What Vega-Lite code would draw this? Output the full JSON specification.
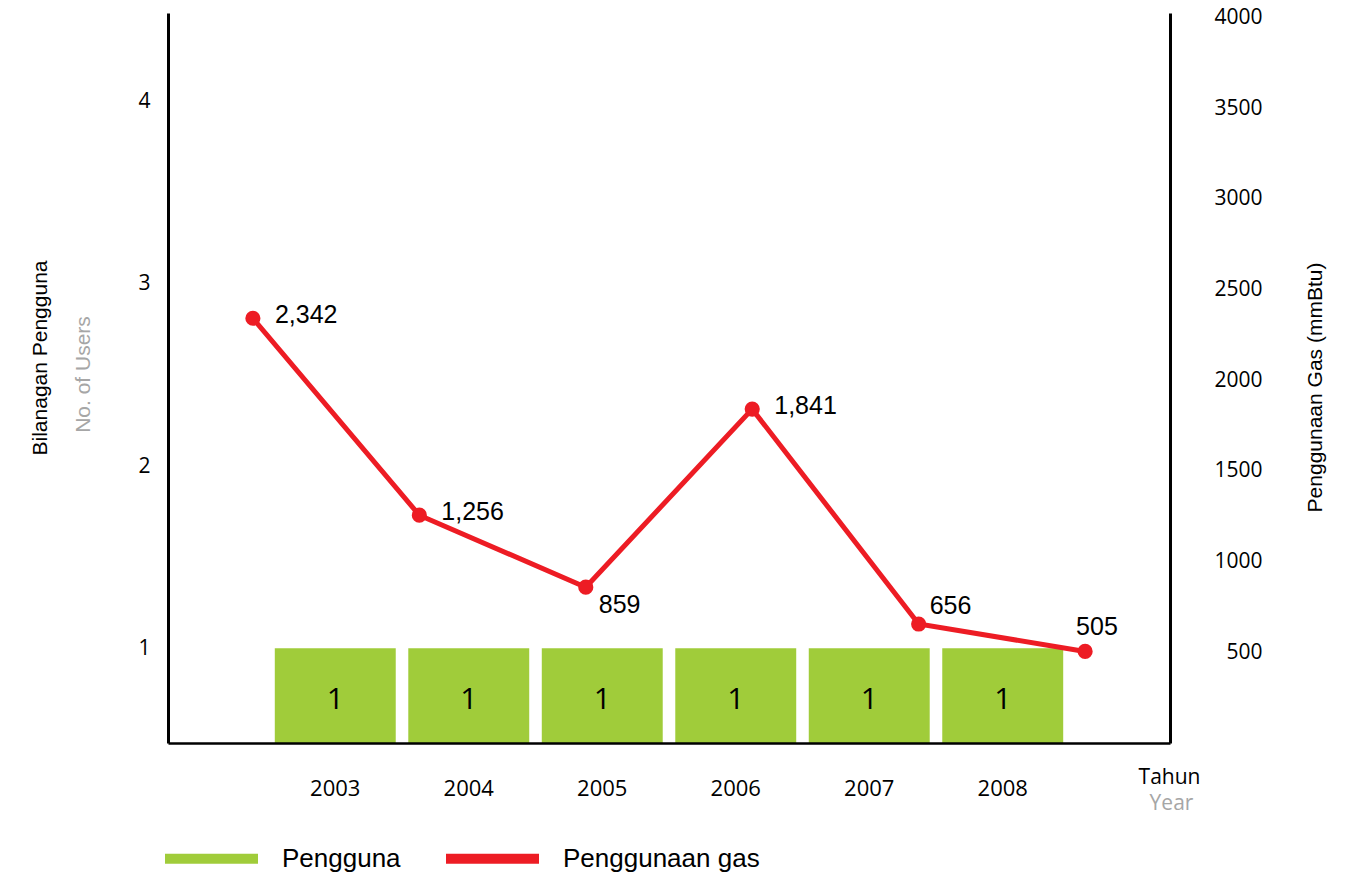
{
  "$schema": "https://vega.github.io/schema/vega-lite/v6.json",
  "width": 1002,
  "height": 730,
  "autosize": {"type": "none"},
  "padding": {"left": 168, "top": 13, "right": 196, "bottom": 136},
  "background": "white",
  "config": {
    "view": {"stroke": null},
    "axis": {
      "grid": false,
      "ticks": false,
      "tickSize": 0,
      "domainColor": "black",
      "labelColor": "black",
      "labelFont": "Open Sans",
      "labelFontSize": 21,
      "titleFontWeight": "normal",
      "titleColor": "black"
    }
  },
  "title": {
    "text": "Bilanagan Pengguna",
    "orient": "left",
    "anchor": "middle",
    "font": "Liberation Sans",
    "fontSize": 21,
    "fontWeight": "normal",
    "color": "black",
    "offset": 21,
    "dx": 20
  },
  "datasets": {
    "table": [
      {"year": "2003", "users": 1, "gas": 2342},
      {"year": "2004", "users": 1, "gas": 1256},
      {"year": "2005", "users": 1, "gas": 859},
      {"year": "2006", "users": 1, "gas": 1841},
      {"year": "2007", "users": 1, "gas": 656},
      {"year": "2008", "users": 1, "gas": 505}
    ]
  },
  "data": {"name": "table"},
  "layer": [
    {
      "encoding": {
        "x": {
          "field": "year",
          "type": "ordinal",
          "scale": {"paddingInner": 0.094, "paddingOuter": 0.8},
          "axis": {
            "domain": true,
            "domainWidth": 2.5,
            "labelAngle": 0,
            "labelPadding": 35,
            "labelFontSize": 22,
            "title": "Tahun",
            "titleFont": "Open Sans",
            "titleFontSize": 21,
            "titleX": 1001,
            "titleY": 40,
            "titleAlign": "center",
            "titleBaseline": "alphabetic",
            "zindex": 1
          }
        },
        "y": {
          "field": "users",
          "type": "quantitative",
          "scale": {"domain": [0.479, 4.488], "nice": false, "zero": false},
          "axis": {
            "values": [1, 2, 3, 4],
            "domainWidth": 3,
            "labelPadding": 18,
            "title": "No. of Users",
            "titleColor": "#A6A6A6",
            "titleFont": "Liberation Sans",
            "titleFontSize": 21,
            "titleAngle": 270,
            "titleX": -79,
            "titleY": 361,
            "titleAlign": "center",
            "titleBaseline": "alphabetic"
          }
        }
      },
      "layer": [
        {
          "mark": {"type": "bar", "clip": true},
          "encoding": {
            "color": {
              "datum": "Pengguna",
              "scale": {"domain": ["Pengguna", "Penggunaan gas"], "range": ["#A0CC3A", "#ED1C24"]},
              "legend": {
                "orient": "none",
                "legendX": -8,
                "legendY": 794,
                "direction": "horizontal",
                "title": null,
                "symbolType": "stroke",
                "symbolSize": 8649,
                "symbolStrokeWidth": 10,
                "labelFont": "Liberation Sans",
                "labelFontSize": 26,
                "labelColor": "black",
                "labelOffset": 19,
                "labelLimit": 400,
                "columnPadding": 25,
                "encode": {
                  "symbols": {
                    "update": {
                      "stroke": {"scale": "color", "field": "value"},
                      "strokeWidth": {"value": 10},
                      "opacity": {"value": 1}
                    }
                  }
                }
              }
            }
          }
        },
        {
          "mark": {"type": "text", "font": "Open Sans", "fontSize": 30, "baseline": "middle", "dy": 52, "color": "black"},
          "encoding": {"text": {"field": "users", "type": "quantitative"}}
        }
      ]
    },
    {
      "encoding": {
        "x": {
          "field": "year",
          "type": "ordinal",
          "scale": {"type": "point", "padding": 0.51},
          "axis": {
            "orient": "bottom",
            "domain": false,
            "labels": false,
            "ticks": false,
            "title": "Year",
            "titleColor": "#A6A6A6",
            "titleFont": "Open Sans",
            "titleFontSize": 21,
            "titleX": 1003,
            "titleY": 66,
            "titleAlign": "center",
            "titleBaseline": "alphabetic"
          }
        },
        "y": {
          "field": "gas",
          "type": "quantitative",
          "scale": {"domain": [0, 4025], "nice": false},
          "axis": {
            "orient": "right",
            "values": [500, 1000, 1500, 2000, 2500, 3000, 3500, 4000],
            "format": "d",
            "domainWidth": 3,
            "labelAlign": "right",
            "labelPadding": 92,
            "title": "Penggunaan Gas (mmBtu)",
            "titleFont": "Liberation Sans",
            "titleFontSize": 21,
            "titleAngle": 270,
            "titleX": 151,
            "titleY": 374,
            "titleAlign": "center",
            "titleBaseline": "alphabetic"
          }
        }
      },
      "layer": [
        {
          "mark": {"type": "line", "strokeWidth": 5},
          "encoding": {"color": {"datum": "Penggunaan gas"}}
        },
        {
          "mark": {"type": "circle", "size": 230, "opacity": 1, "color": "#ED1C24"}
        },
        {
          "transform": [{"filter": "datum.year == '2003' || datum.year == '2004' || datum.year == '2006'"}],
          "mark": {"type": "text", "font": "Liberation Sans", "fontSize": 25, "align": "left", "baseline": "middle", "dx": 22, "dy": -3, "color": "black"},
          "encoding": {"text": {"field": "gas", "type": "quantitative", "format": ","}}
        },
        {
          "transform": [{"filter": "datum.year == '2005'"}],
          "mark": {"type": "text", "font": "Liberation Sans", "fontSize": 25, "align": "left", "baseline": "middle", "dx": 13, "dy": 18, "color": "black"},
          "encoding": {"text": {"field": "gas", "type": "quantitative", "format": ","}}
        },
        {
          "transform": [{"filter": "datum.year == '2007'"}],
          "mark": {"type": "text", "font": "Liberation Sans", "fontSize": 25, "align": "left", "baseline": "middle", "dx": 11, "dy": -18, "color": "black"},
          "encoding": {"text": {"field": "gas", "type": "quantitative", "format": ","}}
        },
        {
          "transform": [{"filter": "datum.year == '2008'"}],
          "mark": {"type": "text", "font": "Liberation Sans", "fontSize": 25, "align": "left", "baseline": "middle", "dx": -9, "dy": -24, "color": "black"},
          "encoding": {"text": {"field": "gas", "type": "quantitative", "format": ","}}
        }
      ]
    }
  ],
  "resolve": {"scale": {"x": "independent", "y": "independent"}}
}
